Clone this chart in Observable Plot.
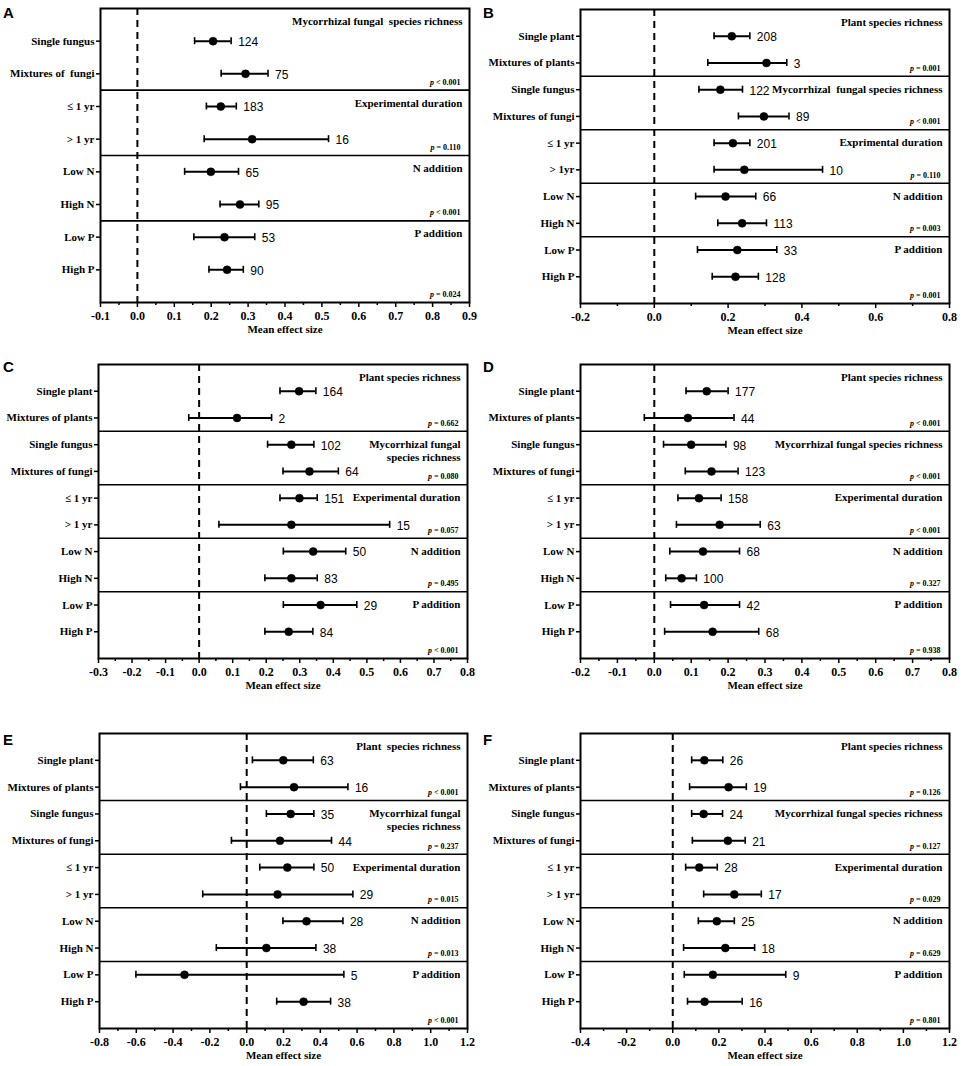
<!DOCTYPE html>
<html><head><meta charset="utf-8">
<script src="https://cdn.jsdelivr.net/npm/d3@7"></script>
<script src="https://cdn.jsdelivr.net/npm/@observablehq/plot@0.6"></script>
<style>
body{margin:0;background:#fff;}
#wrap{position:relative;width:964px;height:1066px;overflow:hidden;background:#fff;}
.panel{position:absolute;}
.panel svg text{white-space:pre;}
.letter{position:absolute;font-family:"Liberation Sans",Arial,sans-serif;font-weight:bold;font-size:15px;line-height:1;color:#000;}
</style></head><body><div id="wrap"></div>
<script>
// ---------- Data ----------
const rowsA = ["Single fungus","Mixtures of  fungi","≤ 1 yr","> 1 yr","Low N","High N","Low P","High P"];
const rowsB = ["Single plant","Mixtures of plants","Single fungus","Mixtures of fungi","≤ 1 yr","> 1yr","Low N","High N","Low P","High P"];
const rowsCF = ["Single plant","Mixtures of plants","Single fungus","Mixtures of fungi","≤ 1 yr","> 1 yr","Low N","High N","Low P","High P"];

const meanA = [0.205,0.293,0.226,0.311,0.199,0.278,0.236,0.243];
const lowA  = [0.155,0.227,0.187,0.181,0.128,0.224,0.153,0.194];
const highA = [0.254,0.354,0.268,0.518,0.274,0.329,0.318,0.287];
const nA    = [124,75,183,16,65,95,53,90];
const groupsA = ["Mycorrhizal fungal  species richness","Experimental duration","N addition","P addition"];
const pA = ["p < 0.001","p = 0.110","p < 0.001","p = 0.024"];
const ticksA = [-0.1,0.0,0.1,0.2,0.3,0.4,0.5,0.6,0.7,0.8,0.9];

const meanB = [0.210,0.304,0.179,0.297,0.213,0.244,0.193,0.238,0.225,0.220];
const lowB  = [0.162,0.145,0.121,0.228,0.162,0.162,0.112,0.172,0.117,0.157];
const highB = [0.259,0.359,0.239,0.365,0.259,0.456,0.275,0.304,0.332,0.282];
const nB    = [208,3,122,89,201,10,66,113,33,128];
const groupsB = ["Plant species richness","Mycorrhizal  fungal species richness","Exprimental duration","N addition","P addition"];
const pB = ["p = 0.001","p < 0.001","p = 0.110","p = 0.003","p = 0.001"];
const ticksB = [-0.2,0.0,0.2,0.4,0.6,0.8];

const meanC = [0.298,0.113,0.275,0.329,0.299,0.275,0.340,0.275,0.362,0.267];
const lowC  = [0.241,-0.031,0.204,0.250,0.241,0.059,0.251,0.196,0.251,0.196];
const highC = [0.348,0.216,0.342,0.415,0.352,0.568,0.437,0.352,0.470,0.339];
const nC    = [164,2,102,64,151,15,50,83,29,84];
const groupsC = ["Plant species richness","Mycorrhizal fungal\nspecies richness","Experimental duration","N addition","P addition"];
const pC = ["p = 0.662","p = 0.080","p = 0.057","p = 0.495","p < 0.001"];
const ticksC = [-0.3,-0.2,-0.1,0.0,0.1,0.2,0.3,0.4,0.5,0.6,0.7,0.8];

const meanD = [0.142,0.091,0.100,0.155,0.121,0.177,0.132,0.074,0.135,0.158];
const lowD  = [0.086,-0.027,0.025,0.084,0.064,0.060,0.042,0.031,0.044,0.028];
const highD = [0.200,0.216,0.194,0.227,0.181,0.287,0.231,0.114,0.231,0.283];
const nD    = [177,44,98,123,158,63,68,100,42,68];
const groupsD = ["Plant species richness","Mycorrhizal fungal species richness","Experimental duration","N addition","P addition"];
const pD = ["p < 0.001","p < 0.001","p < 0.001","p = 0.327","p = 0.938"];
const ticksD = [-0.2,-0.1,0.0,0.1,0.2,0.3,0.4,0.5,0.6,0.7,0.8];

const meanE = [0.199,0.257,0.239,0.181,0.221,0.168,0.325,0.107,-0.338,0.309];
const lowE  = [0.031,-0.034,0.107,-0.083,0.071,-0.239,0.197,-0.165,-0.602,0.163];
const highE = [0.362,0.550,0.365,0.461,0.365,0.577,0.523,0.376,0.528,0.456];
const nE    = [63,16,35,44,50,29,28,38,5,38];
const groupsE = ["Plant  species richness","Mycorrhizal fungal\nspecies richness","Experimental duration","N addition","P addition"];
const pE = ["p < 0.001","p = 0.237","p = 0.015","p = 0.013","p < 0.001"];
const ticksE = [-0.8,-0.6,-0.4,-0.2,0.0,0.2,0.4,0.6,0.8,1.0,1.2];

const meanF = [0.137,0.242,0.134,0.239,0.115,0.267,0.191,0.228,0.174,0.138];
const lowF  = [0.082,0.073,0.082,0.085,0.056,0.134,0.111,0.047,0.050,0.064];
const highF = [0.217,0.319,0.216,0.314,0.193,0.384,0.267,0.355,0.490,0.301];
const nF    = [26,19,24,21,28,17,25,18,9,16];
const groupsF = ["Plant species richness","Mycorrhizal fungal species richness","Experimental duration","N addition","P addition"];
const pF = ["p = 0.126","p = 0.127","p = 0.029","p = 0.629","p = 0.801"];
const ticksF = [-0.4,-0.2,0.0,0.2,0.4,0.6,0.8,1.0,1.2];

const xLabel = "Mean effect size";

// ---------- Layout ----------
const panels = [
  {letter:"A", rows:rowsA, mean:meanA, low:lowA, high:highA, n:nA, groups:groupsA, p:pA, ticks:ticksA,
   left:0, top:0, width:480, height:340, mt:8, mb:38, ml:100, mr:11, lx:3, ly:5},
  {letter:"B", rows:rowsB, mean:meanB, low:lowB, high:highB, n:nB, groups:groupsB, p:pB, ticks:ticksB,
   left:480, top:0, width:484, height:340, mt:9, mb:37, ml:100, mr:15, lx:3, ly:5},
  {letter:"C", rows:rowsCF, mean:meanC, low:lowC, high:highC, n:nC, groups:groupsC, p:pC, ticks:ticksC,
   left:0, top:340, width:480, height:360, mt:24, mb:42, ml:98, mr:13, lx:3, ly:19},
  {letter:"D", rows:rowsCF, mean:meanD, low:lowD, high:highD, n:nD, groups:groupsD, p:pD, ticks:ticksD,
   left:480, top:340, width:484, height:360, mt:24, mb:42, ml:100, mr:15, lx:3, ly:19},
  {letter:"E", rows:rowsCF, mean:meanE, low:lowE, high:highE, n:nE, groups:groupsE, p:pE, ticks:ticksE,
   left:0, top:700, width:480, height:366, mt:33, mb:38, ml:99, mr:13, lx:3, ly:32},
  {letter:"F", rows:rowsCF, mean:meanF, low:lowF, high:highF, n:nF, groups:groupsF, p:pF, ticks:ticksF,
   left:480, top:700, width:484, height:366, mt:33, mb:38, ml:100, mr:15, lx:3, ly:32}
];

const serif = '"Liberation Serif", "Times New Roman", serif';
const sans = '"Liberation Sans", Arial, sans-serif';
const wrap = document.getElementById("wrap");

function drawPanel(s) {
  const n = s.rows.length;
  const data = s.rows.map((r, k) => ({label: r, i: k + 1, mean: s.mean[k], lo: s.low[k], hi: s.high[k], n: s.n[k]}));
  const nG = s.groups.length;
  const bounds = d3.range(nG + 1).map(g => g === 0 ? 0 : (g === nG ? n + 1 : 2 * g + 0.5));
  const inner = bounds.slice(1, -1);
  const headers = s.groups.map((t, g) => ({t, y: bounds[g]}));
  const pv = s.p.map((t, g) => ({t, y: bounds[g + 1]}));
  const slot = (s.height - s.mt - s.mb) / (n + 1);
  const cap = 3.5 / slot;
  const domain = [s.ticks[0], s.ticks[s.ticks.length - 1]];
  const minor = s.ticks.slice(1).map((t, k) => (t + s.ticks[k]) / 2);

  const svg = Plot.plot({
    width: s.width, height: s.height,
    marginTop: s.mt, marginBottom: s.mb, marginLeft: s.ml, marginRight: s.mr,
    x: {domain},
    y: {domain: [0, n + 1], reverse: true},
    style: {fontFamily: serif, fontWeight: "bold", fontSize: "11px", color: "black", background: "transparent", overflow: "visible"},
    marks: [
      Plot.ruleY(inner, {strokeWidth: 1.6}),
      Plot.ruleX([0], {strokeDasharray: "7,5", strokeWidth: 2}),
      Plot.ruleY(data, {y: "i", x1: "lo", x2: "hi", strokeWidth: 2}),
      Plot.ruleX(data, {x: "lo", y1: d => d.i - cap, y2: d => d.i + cap, strokeWidth: 1.6}),
      Plot.ruleX(data, {x: "hi", y1: d => d.i - cap, y2: d => d.i + cap, strokeWidth: 1.6}),
      Plot.dot(data, {x: "mean", y: "i", r: 4, fill: "black", stroke: "black", strokeWidth: 0.5}),
      Plot.text(data, {x: "hi", y: "i", text: d => String(d.n), dx: 7, dy: 1, textAnchor: "start",
        fontFamily: sans, fontWeight: "normal", fontSize: 12}),
      Plot.text(headers, {frameAnchor: "right", y: "y", text: "t", textAnchor: "end", lineAnchor: "top",
        dx: -7, dy: 7, lineHeight: 1.2, fontSize: 11}),
      Plot.text(pv, {frameAnchor: "right", y: "y", text: "t", textAnchor: "end", dx: -9, dy: -8, fontSize: 8}),
      Plot.axisY({ticks: data.map(d => d.i), tickFormat: i => s.rows[i - 1], tickSize: 4, tickPadding: 2,
        label: null, fontSize: 11, strokeWidth: 1.5}),
      Plot.axisX({ticks: minor, tickSize: 3, tickFormat: () => "", label: null, strokeWidth: 1.5}),
      Plot.axisX({ticks: s.ticks, tickSize: 5, tickPadding: 4, tickFormat: d => d.toFixed(1), label: null,
        fontSize: 12, strokeWidth: 1.5}),
      Plot.text([xLabel], {frameAnchor: "bottom", lineAnchor: "middle", dy: 27, fontSize: 11}),
      Plot.frame({strokeWidth: 2})
    ]
  });

  // italic "p" in p-values
  d3.select(svg).selectAll("text").each(function() {
    const t = this.textContent;
    if (/^p [<=] /.test(t)) {
      this.textContent = "";
      const sel = d3.select(this);
      sel.append("tspan").attr("font-style", "italic").text("p");
      sel.append("tspan").text(t.slice(1));
    }
  });

  const div = document.createElement("div");
  div.className = "panel";
  div.style.left = s.left + "px";
  div.style.top = s.top + "px";
  div.style.width = s.width + "px";
  div.style.height = s.height + "px";
  div.appendChild(svg);
  const L = document.createElement("div");
  L.className = "letter";
  L.textContent = s.letter;
  L.style.left = s.lx + "px";
  L.style.top = s.ly + "px";
  div.appendChild(L);
  wrap.appendChild(div);
}

panels.forEach(drawPanel);
</script>
</body></html>
